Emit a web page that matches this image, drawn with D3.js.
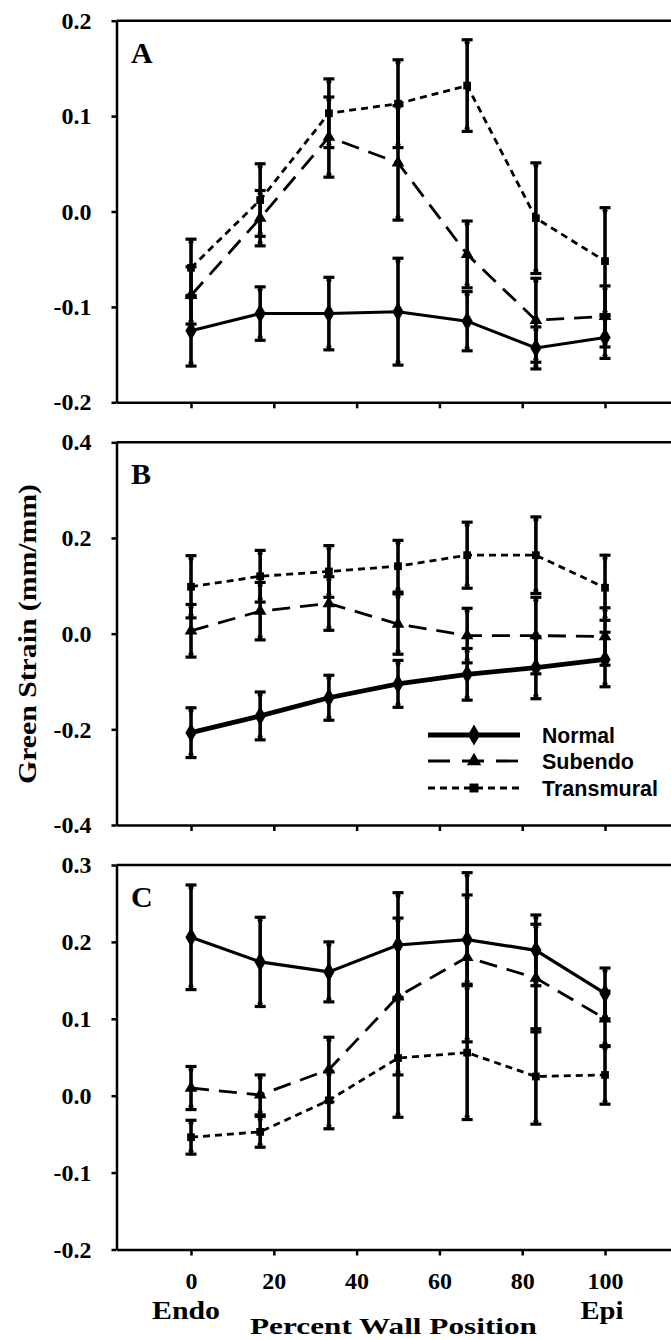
<!DOCTYPE html>
<html>
<head>
<meta charset="utf-8">
<style>
  body { margin: 0; background: white; }
  svg text { fill: black; }
  .axis path, .axis line { stroke: black; stroke-width: 2.5; }
  .axis text { font-family: "Liberation Serif", "Times New Roman", serif; font-weight: bold; font-size: 24px; fill: black; }
</style>
</head>
<body>
<div id="chart"></div>
<script src="https://d3js.org/d3.v7.min.js"></script>
<script>
// wall positions (percent, endo -> epi)
const wallPos = [0, 16.7, 33.3, 50, 66.7, 83.3, 100];
const xTickValues = [0, 20, 40, 60, 80, 100];
const seriesNames = ['Normal', 'Subendo', 'Transmural'];

// panel A
const normalA = [-0.125, -0.107, -0.107, -0.105, -0.115, -0.143, -0.132];
const normalA_sd = [0.037, 0.028, 0.038, 0.056, 0.031, 0.022, 0.022];
const subendoA = [-0.088, -0.007, 0.078, 0.051, -0.045, -0.114, -0.110];
const subendoA_sd = [0.030, 0.029, 0.042, 0.060, 0.035, 0.044, 0.032];
const transA = [-0.059, 0.012, 0.103, 0.113, 0.132, -0.007, -0.052];
const transA_sd = [0.030, 0.038, 0.036, 0.046, 0.048, 0.058, 0.056];
const yTicksA = [-0.2, -0.1, 0, 0.1, 0.2];
const yLabelsA = ['-0.2', '-0.1', '0.0', '0.1', '0.2'];

// panel B
const normalB = [-0.207, -0.172, -0.134, -0.105, -0.085, -0.071, -0.054];
const normalB_sd = [0.052, 0.050, 0.047, 0.049, 0.054, 0.065, 0.057];
const subendoB = [0.006, 0.047, 0.063, 0.020, -0.004, -0.004, -0.006];
const subendoB_sd = [0.055, 0.060, 0.056, 0.063, 0.057, 0.080, 0.060];
const transB = [0.098, 0.120, 0.130, 0.141, 0.164, 0.164, 0.096];
const transB_sd = [0.065, 0.054, 0.054, 0.054, 0.069, 0.080, 0.068];
const yTicksB = [-0.4, -0.2, 0, 0.2, 0.4];
const yLabelsB = ['-0.4', '-0.2', '0.0', '0.2', '0.4'];

// panel C
const normalC = [0.206, 0.174, 0.161, 0.196, 0.203, 0.189, 0.133];
const normalC_sd = [0.068, 0.058, 0.039, 0.068, 0.058, 0.046, 0.033];
const subendoC = [0.010, 0.001, 0.034, 0.129, 0.180, 0.153, 0.100];
const subendoC_sd = [0.028, 0.026, 0.042, 0.102, 0.110, 0.070, 0.036];
const transC = [-0.054, -0.047, -0.006, 0.049, 0.056, 0.025, 0.027];
const transC_sd = [0.022, 0.020, 0.037, 0.077, 0.087, 0.062, 0.038];
const yTicksC = [-0.2, -0.1, 0, 0.1, 0.2, 0.3];
const yLabelsC = ['-0.2', '-0.1', '0.0', '0.1', '0.2', '0.3'];

const width = 671, height = 1340;
const left = 116.5;

const svg = d3.select('#chart').append('svg')
  .attr('width', width).attr('height', height)
  .style('background', 'white');

const x = d3.scaleLinear().domain([-18, 118]).range([left, left + 136 * 4.14]);

// line styles per series
const styles = {
  Normal: { dash: null, symbol: d3.symbolDiamond, size: 110 },
  Subendo: { dash: '18,10', symbol: d3.symbolTriangle, size: 70 },
  Transmural: { dash: '7,5', symbol: d3.symbolSquare, size: 60 }
};

const panels = [
  { label: 'A', top: 20.7, bottom: 402.3, domain: [-0.2, 0.2], ticks: yTicksA, tickLabels: yLabelsA,
    series: [[normalA, normalA_sd], [subendoA, subendoA_sd], [transA, transA_sd]], normalWidth: 3, xPad: 14, backdrop: null },
  { label: 'B', top: 442.3, bottom: 825, domain: [-0.4, 0.4], ticks: yTicksB, tickLabels: yLabelsB,
    series: [[normalB, normalB_sd], [subendoB, subendoB_sd], [transB, transB_sd]], normalWidth: 4.8, xPad: 11.5, backdrop: 414 },
  { label: 'C', top: 865, bottom: 1249.5, domain: [-0.2, 0.3], ticks: yTicksC, tickLabels: yLabelsC,
    series: [[normalC, normalC_sd], [subendoC, subendoC_sd], [transC, transC_sd]], normalWidth: 3.2, xPad: 16, backdrop: 845 }
];

panels.forEach((p) => {
  const g = svg.append('g');
  if (p.backdrop !== null) {
    g.append('rect').attr('x', 0).attr('y', p.backdrop)
      .attr('width', width).attr('height', p.bottom - p.backdrop + 60)
      .attr('fill', 'white');
  }
  const y = d3.scaleLinear().domain(p.domain).range([p.bottom, p.top]);

  // top border of the frame
  g.append('line')
    .attr('x1', left).attr('x2', width + 10)
    .attr('y1', p.top).attr('y2', p.top)
    .attr('stroke', 'black').attr('stroke-width', 2.5);

  const yAxis = d3.axisLeft(y).tickValues(p.ticks)
    .tickFormat((d, i) => p.tickLabels[i])
    .tickSize(5).tickSizeOuter(0).tickPadding(20);
  g.append('g').attr('class', 'axis')
    .attr('transform', `translate(${left},0)`)
    .call(yAxis);

  const xAxis = d3.axisBottom(x).tickValues(xTickValues)
    .tickSize(6).tickSizeOuter(0).tickPadding(p.xPad);
  g.append('g').attr('class', 'axis')
    .attr('transform', `translate(0,${p.bottom})`)
    .call(xAxis);

  // panel letter
  g.append('text')
    .attr('x', 131).attr('y', p.top + 42)
    .style('font-family', '"Liberation Serif", serif')
    .style('font-weight', 'bold').style('font-size', '30px')
    .text(p.label);

  p.series.forEach(([vals, sds], si) => {
    const name = seriesNames[si];
    const st = styles[name];
    const pts = vals.map((v, i) => ({ x: wallPos[i], y: v, sd: sds[i] }));

    const line = d3.line().x(d => x(d.x)).y(d => y(d.y));
    g.append('path').datum(pts)
      .attr('d', line)
      .attr('fill', 'none').attr('stroke', 'black')
      .attr('stroke-width', name === 'Normal' ? p.normalWidth : 2.8)
      .attr('stroke-dasharray', st.dash);

    const eb = g.append('g');
    eb.selectAll('line.bar').data(pts).join('line')
      .attr('x1', d => x(d.x)).attr('x2', d => x(d.x))
      .attr('y1', d => y(d.y - d.sd)).attr('y2', d => y(d.y + d.sd))
      .attr('stroke', 'black').attr('stroke-width', 3.6);
    [-1, 1].forEach((sgn) => {
      eb.selectAll(null).data(pts).join('line')
        .attr('x1', d => x(d.x) - 5.5).attr('x2', d => x(d.x) + 5.5)
        .attr('y1', d => y(d.y + sgn * d.sd)).attr('y2', d => y(d.y + sgn * d.sd))
        .attr('stroke', 'black').attr('stroke-width', 3.2);
      eb.selectAll(null).data(pts).join('path')
        .attr('transform', d => `translate(${x(d.x)},${y(d.y + sgn * d.sd) + sgn * 3})`)
        .attr('d', d3.symbol().type(d3.symbolDiamond).size(26))
        .attr('fill', 'black');
    });

    g.selectAll(null).data(pts).join('path')
      .attr('transform', d => `translate(${x(d.x)},${y(d.y)})`)
      .attr('d', d3.symbol().type(st.symbol).size(st.size))
      .attr('fill', 'black');
  });

  if (p.label === 'B') {
    const legendRows = [735, 761, 788];
    const legendText = [73, 92, 116];
    seriesNames.forEach((name, i) => {
      const st = styles[name];
      const ly = legendRows[i];
      g.append('line')
        .attr('x1', 428).attr('x2', 520).attr('y1', ly).attr('y2', ly)
        .attr('stroke', 'black')
        .attr('stroke-width', name === 'Normal' ? 4.8 : 2.8)
        .attr('stroke-dasharray', name === 'Subendo' ? '22,12' : st.dash);
      g.append('path')
        .attr('transform', `translate(474,${ly})`)
        .attr('d', d3.symbol().type(st.symbol).size(st.size + 20))
        .attr('fill', 'black');
      g.append('text')
        .attr('x', 542).attr('y', ly + 8)
        .attr('textLength', legendText[i]).attr('lengthAdjust', 'spacingAndGlyphs')
        .style('font-family', '"Liberation Sans Narrow", "Liberation Sans", Arial, sans-serif')
        .style('font-weight', 'bold').style('font-size', '22px')
        .text(name);
    });
  }
});

// axis titles
const serif = '"Liberation Serif", "Times New Roman", serif';
svg.append('text')
  .attr('transform', 'translate(36,634) rotate(-90)')
  .attr('text-anchor', 'middle')
  .attr('textLength', 300).attr('lengthAdjust', 'spacingAndGlyphs')
  .style('font-family', serif).style('font-weight', 'bold').style('font-size', '26px')
  .text('Green Strain (mm/mm)');

svg.append('text')
  .attr('x', x(0) - 5).attr('y', 1319).attr('text-anchor', 'middle')
  .attr('textLength', 68).attr('lengthAdjust', 'spacingAndGlyphs')
  .style('font-family', serif).style('font-weight', 'bold').style('font-size', '25px')
  .text('Endo');

svg.append('text')
  .attr('x', x(100) - 3).attr('y', 1319).attr('text-anchor', 'middle')
  .attr('textLength', 43).attr('lengthAdjust', 'spacingAndGlyphs')
  .style('font-family', serif).style('font-weight', 'bold').style('font-size', '25px')
  .text('Epi');

svg.append('text')
  .attr('x', 250).attr('y', 1334)
  .attr('textLength', 287).attr('lengthAdjust', 'spacingAndGlyphs')
  .style('font-family', serif).style('font-weight', 'bold').style('font-size', '24px')
  .text('Percent Wall Position');
</script>
</body>
</html>
